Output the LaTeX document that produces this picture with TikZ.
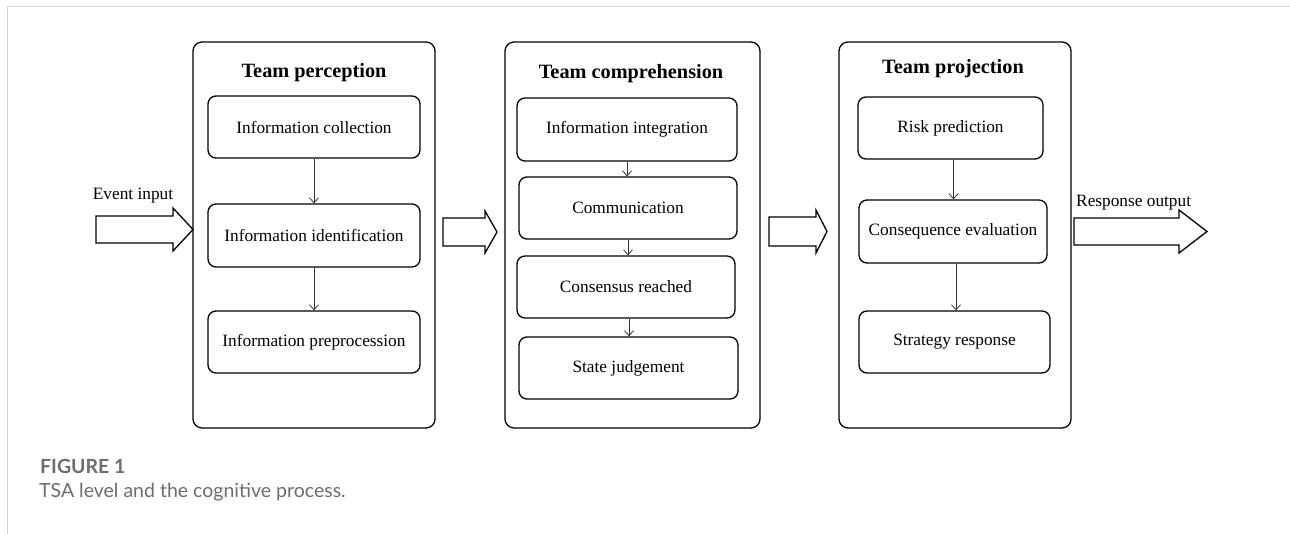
\documentclass[tikz,border=0pt]{standalone}
\usepackage{fontspec}
\setmainfont{Liberation Serif}
\newfontfamily\capfont{Lato}
\usetikzlibrary{arrows.meta}
\definecolor{frameg}{HTML}{D4D4D4}
\definecolor{capg}{HTML}{6E6E6E}
\tikzset{
  panel/.style={draw, line width=1.3pt, rounded corners=9pt, inner sep=0pt},
  inbox/.style={draw, line width=1.3pt, rounded corners=8pt, inner sep=0pt, font=\fontsize{17.3}{19}\selectfont},
  ptitle/.style={font=\fontsize{20.3}{23}\selectfont\bfseries, inner sep=0pt},
  flow/.style={draw=black!80, line width=0.8pt, -{Straight Barb[length=5pt,width=9pt]}},
  blockarrow/.style={draw, line width=1.3pt, fill=white},
  lbl/.style={font=\fontsize{17.3}{19}\selectfont, inner sep=0pt},
  captxt/.style={anchor=base west, inner sep=0pt, text=capg}
}
\begin{document}
\begin{tikzpicture}[x=1pt,y=-1pt]
\useasboundingbox (0,0) rectangle (1290,534);
\fill[white] (0,0) rectangle (1290,534);
\draw[frameg, line width=1pt] (7,534) -- (7,7) -- (1290,7);

% panels
\node[panel, minimum width=242pt, minimum height=386pt] (p1) at (314,235) {};
\node[panel, minimum width=255pt, minimum height=386pt] (p2) at (632.5,235) {};
\node[panel, minimum width=232pt, minimum height=386pt] (p3) at (955,235) {};

\node[ptitle] (t1) at (314,73) {Team perception};
\node[ptitle] (t2) at (631,74) {Team comprehension};
\node[ptitle] (t3) at (953,69) {Team projection};

% panel 1
\node[inbox, minimum width=212pt, minimum height=62pt] (a1) at (314,127) {Information collection};
\node[inbox, minimum width=212pt, minimum height=63pt] (a2) at (314,235.5) {Information identification};
\node[inbox, minimum width=212pt, minimum height=62pt] (a3) at (314,342) {Information preprocession};
\draw[flow] (a1.south) -- (a1.south |- a2.north);
\draw[flow] (a2.south) -- (a2.south |- a3.north);

% panel 2
\node[inbox, minimum width=220pt, minimum height=63pt] (b1) at (627,129.5) {Information integration};
\node[inbox, minimum width=218pt, minimum height=62pt] (b2) at (628,208) {Communication};
\node[inbox, minimum width=218pt, minimum height=62pt] (b3) at (626,287) {Consensus reached};
\node[inbox, minimum width=219pt, minimum height=62pt] (b4) at (628.5,368) {State judgement};
\draw[flow] (b1.south) -- (b1.south |- b2.north);
\draw[flow] (b2.south) -- (b2.south |- b3.north);
\draw[flow] (b3.south) ++(3,0) coordinate (b3s) -- (b3s |- b4.north);

% panel 3
\node[inbox, minimum width=185pt, minimum height=62pt] (c1) at (950.5,128) {Risk prediction};
\node[inbox, minimum width=188pt, minimum height=63pt] (c2) at (953,231.5) {Consequence evaluation};
\node[inbox, minimum width=191pt, minimum height=62pt] (c3) at (954.5,342) {Strategy response};
\draw[flow] (c1.south) ++(3,0) coordinate (c1s) -- (c1s |- c2.north);
\draw[flow] (c2.south) ++(3,0) coordinate (c2s) -- (c2s |- c3.north);

% block arrows
\draw[blockarrow] (96,216) -- (173,216) -- (173,208) -- (193,229.5) -- (173,251) -- (173,243) -- (96,243) -- cycle;
\draw[blockarrow] (443,218) -- (485,218) -- (485,211) -- (497,232) -- (485,253) -- (485,246) -- (443,246) -- cycle;
\draw[blockarrow] (769,217) -- (816,217) -- (816,210) -- (827,231.5) -- (816,253) -- (816,246) -- (769,246) -- cycle;
\draw[blockarrow] (1074,218) -- (1179,218) -- (1179,210) -- (1207,231.5) -- (1179,253) -- (1179,245) -- (1074,245) -- cycle;

\node[lbl] (ein) at (133,196) {Event input};
\node[lbl, anchor=west] (rout) at (1076,203) {Response output};

% caption
\node[captxt, font=\capfont\fontsize{19.5}{22}\selectfont\bfseries] (fig) at (40,473) {FIGURE 1};
\node[captxt, font=\capfont\fontsize{19.5}{22}\selectfont] (cap) at (39,497) {TSA level and the cognitive process.};
\end{tikzpicture}
\end{document}
